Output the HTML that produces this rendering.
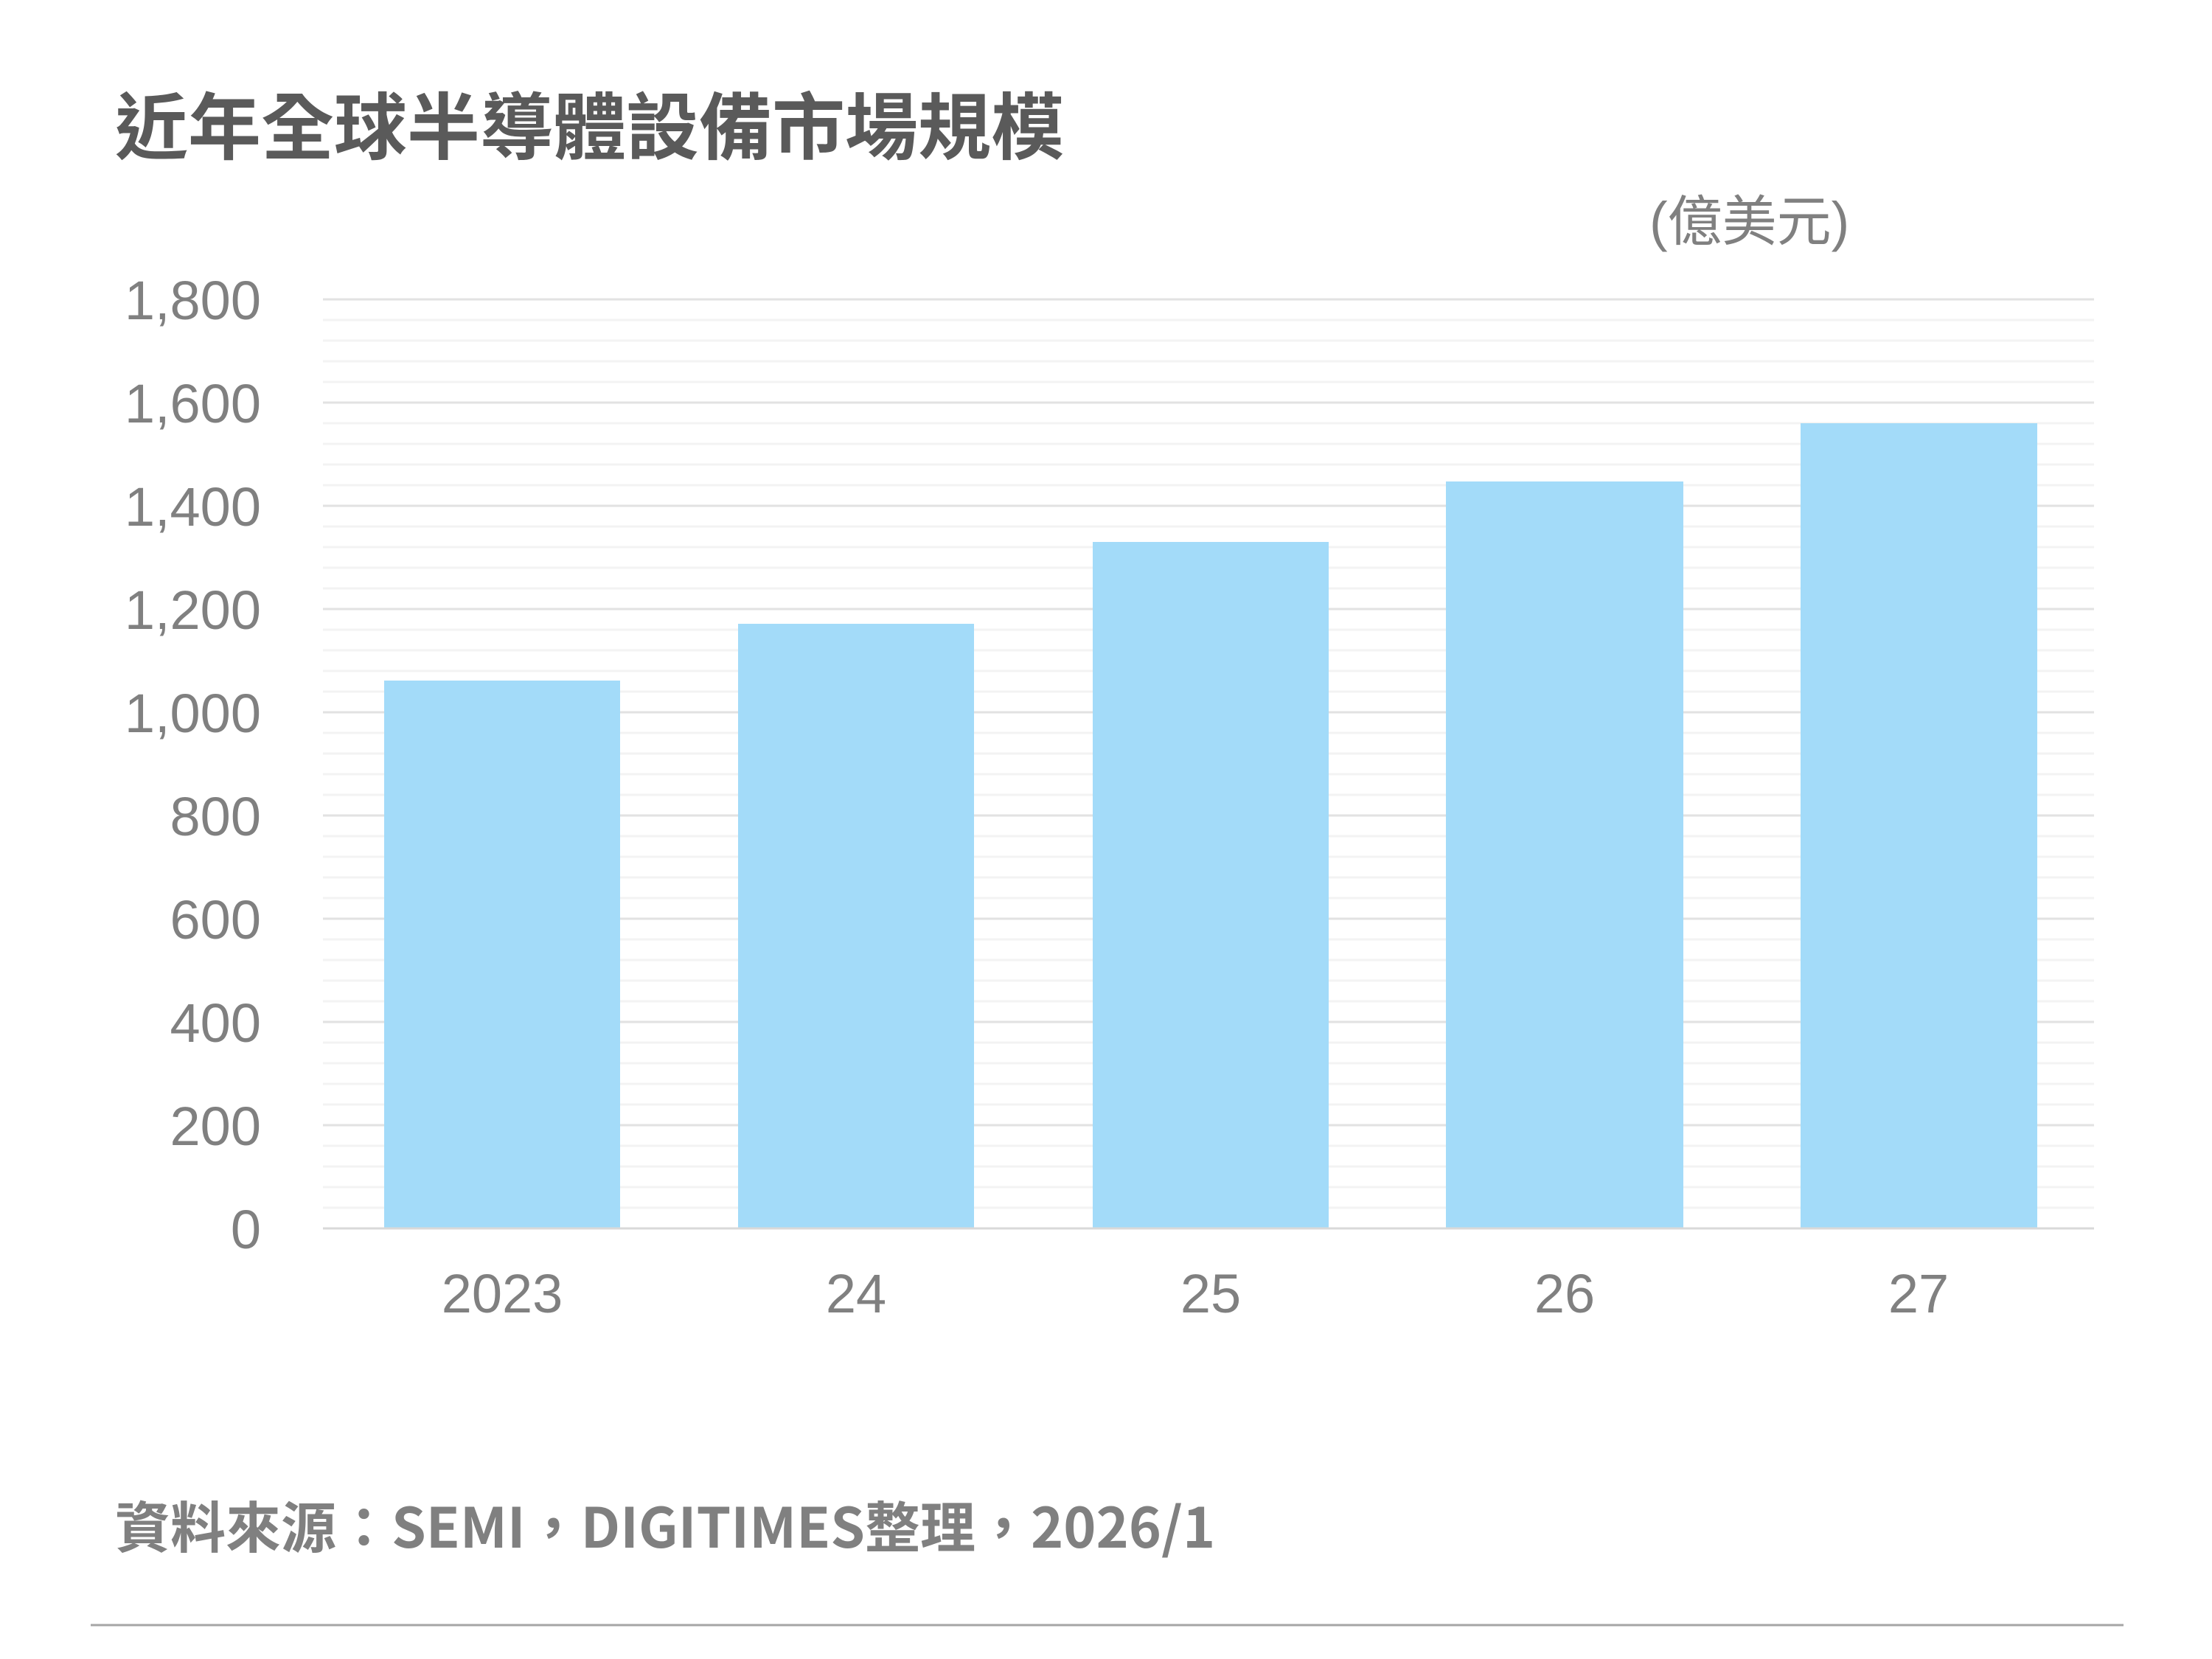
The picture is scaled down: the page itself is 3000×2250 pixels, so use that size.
<!DOCTYPE html>
<html><head><meta charset="utf-8"><style>
html,body{margin:0;padding:0;background:#fff;}
svg{display:block;}
</style></head><body>
<svg width="3000" height="2250" viewBox="0 0 3000 2250" xmlns="http://www.w3.org/2000/svg">
<rect width="3000" height="2250" fill="#fff"/>
<text x="156" y="208" font-family="'Noto Sans CJK TC','Noto Sans CJK SC',sans-serif" font-weight="bold" font-size="99" fill="#5a5a5a">近年全球半導體設備市場規模</text>
<text x="2237" y="326" font-family="'Liberation Sans','Noto Sans CJK TC',sans-serif" font-size="74" fill="#808080">(億美元)</text>
<g stroke="#f3f3f3" stroke-width="3">
<line x1="438" x2="2840" y1="434" y2="434"/><line x1="438" x2="2840" y1="462" y2="462"/><line x1="438" x2="2840" y1="490" y2="490"/><line x1="438" x2="2840" y1="518" y2="518"/>
<line x1="438" x2="2840" y1="574" y2="574"/><line x1="438" x2="2840" y1="602" y2="602"/><line x1="438" x2="2840" y1="630" y2="630"/><line x1="438" x2="2840" y1="658" y2="658"/>
<line x1="438" x2="2840" y1="714" y2="714"/><line x1="438" x2="2840" y1="742" y2="742"/><line x1="438" x2="2840" y1="770" y2="770"/><line x1="438" x2="2840" y1="798" y2="798"/>
<line x1="438" x2="2840" y1="854" y2="854"/><line x1="438" x2="2840" y1="882" y2="882"/><line x1="438" x2="2840" y1="910" y2="910"/><line x1="438" x2="2840" y1="938" y2="938"/>
<line x1="438" x2="2840" y1="994" y2="994"/><line x1="438" x2="2840" y1="1022" y2="1022"/><line x1="438" x2="2840" y1="1050" y2="1050"/><line x1="438" x2="2840" y1="1078" y2="1078"/>
<line x1="438" x2="2840" y1="1134" y2="1134"/><line x1="438" x2="2840" y1="1162" y2="1162"/><line x1="438" x2="2840" y1="1190" y2="1190"/><line x1="438" x2="2840" y1="1218" y2="1218"/>
<line x1="438" x2="2840" y1="1274" y2="1274"/><line x1="438" x2="2840" y1="1302" y2="1302"/><line x1="438" x2="2840" y1="1330" y2="1330"/><line x1="438" x2="2840" y1="1358" y2="1358"/>
<line x1="438" x2="2840" y1="1414" y2="1414"/><line x1="438" x2="2840" y1="1442" y2="1442"/><line x1="438" x2="2840" y1="1470" y2="1470"/><line x1="438" x2="2840" y1="1498" y2="1498"/>
<line x1="438" x2="2840" y1="1554" y2="1554"/><line x1="438" x2="2840" y1="1582" y2="1582"/><line x1="438" x2="2840" y1="1610" y2="1610"/><line x1="438" x2="2840" y1="1638" y2="1638"/>
</g>
<g stroke="#e2e2e2" stroke-width="3">
<line x1="438" x2="2840" y1="406" y2="406"/><line x1="438" x2="2840" y1="546" y2="546"/><line x1="438" x2="2840" y1="686" y2="686"/><line x1="438" x2="2840" y1="826" y2="826"/><line x1="438" x2="2840" y1="966" y2="966"/><line x1="438" x2="2840" y1="1106" y2="1106"/><line x1="438" x2="2840" y1="1246" y2="1246"/><line x1="438" x2="2840" y1="1386" y2="1386"/><line x1="438" x2="2840" y1="1526" y2="1526"/>
</g>
<g fill="#a3dbf9">
<rect x="521" y="923" width="320" height="743"/>
<rect x="1001" y="846" width="320" height="820"/>
<rect x="1482" y="735" width="320" height="931"/>
<rect x="1961" y="653" width="322" height="1013"/>
<rect x="2442" y="574" width="321" height="1092"/>
</g>
<line x1="438" x2="2840" y1="1666" y2="1666" stroke="#d9d9d9" stroke-width="3"/>
<g font-family="'Liberation Sans',sans-serif" font-size="74" fill="#808080" text-anchor="end">
<text x="354" y="433">1,800</text><text x="354" y="573">1,600</text><text x="354" y="713">1,400</text><text x="354" y="853">1,200</text><text x="354" y="993">1,000</text><text x="354" y="1133">800</text><text x="354" y="1273">600</text><text x="354" y="1413">400</text><text x="354" y="1553">200</text><text x="354" y="1693">0</text>
</g>
<g font-family="'Liberation Sans',sans-serif" font-size="74" fill="#808080" text-anchor="middle">
<text x="681" y="1780">2023</text><text x="1161" y="1780">24</text><text x="1642" y="1780">25</text><text x="2122" y="1780">26</text><text x="2602" y="1780">27</text>
</g>
<text x="156" y="2099" font-family="'Noto Sans CJK TC','Noto Sans CJK SC',sans-serif" font-weight="bold" font-size="75" fill="#808080">資料來源：SEMI，DIGITIMES整理，2026/1</text>
<line x1="123" x2="2880" y1="2204" y2="2204" stroke="#a6a6a6" stroke-width="3"/>
</svg>
</body></html>
